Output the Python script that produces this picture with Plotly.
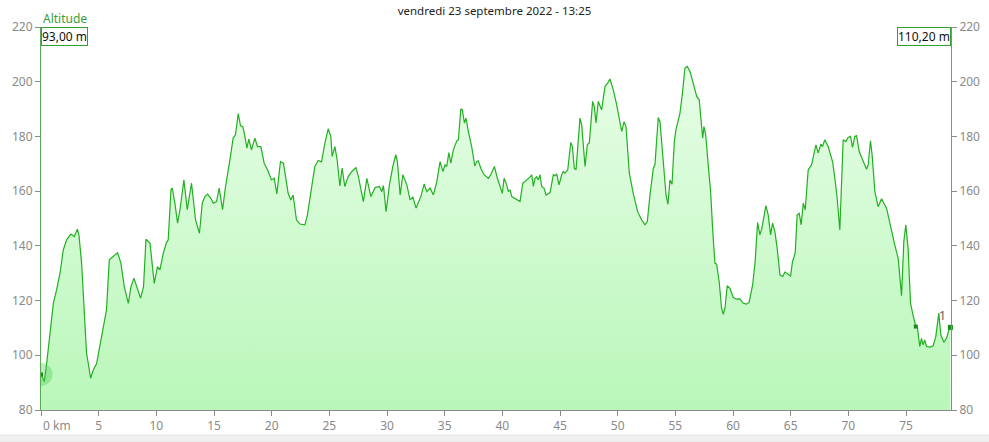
import plotly.graph_objects as go

# profil altimétrique (km, m)
distance_km = [
    0.0, 0.29, 0.49, 0.78, 1.07, 1.35, 1.65, 1.93, 2.22, 2.60, 2.89, 3.15, 3.29, 3.52, 3.81, 3.95,
    4.10, 4.30, 4.53, 4.82, 5.25, 5.68, 5.92, 6.27, 6.64, 6.93, 7.22, 7.57, 7.80, 8.06, 8.32, 8.63,
    8.89, 9.10, 9.45, 9.82, 10.10, 10.31, 10.60, 10.88, 11.03, 11.27, 11.38, 11.61, 11.84, 12.05,
    12.39, 12.68, 13.05, 13.40, 13.74, 13.98, 14.21, 14.44, 14.73, 14.93, 15.22, 15.45, 15.74,
    16.00, 16.38, 16.66, 16.86, 17.10, 17.30, 17.50, 17.68, 17.85, 18.02, 18.25, 18.54, 18.77,
    19.06, 19.35, 19.64, 19.98, 20.22, 20.45, 20.76, 21.02, 21.43, 21.66, 21.86, 22.15, 22.44,
    22.88, 23.10, 23.45, 23.74, 24.03, 24.32, 24.61, 24.90, 25.13, 25.24, 25.48, 25.68, 25.91,
    26.11, 26.34, 26.63, 26.95, 27.30, 27.52, 27.73, 27.95, 28.25, 28.60, 28.97, 29.34, 29.55,
    29.69, 29.92, 30.21, 30.50, 30.76, 30.90, 31.14, 31.37, 31.72, 32.00, 32.24, 32.52, 32.72,
    32.93, 33.22, 33.45, 33.74, 34.02, 34.32, 34.60, 34.84, 35.03, 35.18, 35.36, 35.53, 35.75,
    36.05, 36.19, 36.40, 36.53, 36.71, 36.85, 37.05, 37.35, 37.61, 37.78, 37.92, 38.13, 38.41,
    38.79, 38.99, 39.31, 39.57, 39.80, 40.00, 40.15, 40.38, 40.52, 40.67, 40.82, 41.10, 41.53,
    41.77, 41.97, 42.17, 42.40, 42.55, 42.69, 42.83, 42.98, 43.12, 43.27, 43.41, 43.61, 43.79,
    44.14, 44.42, 44.57, 44.71, 44.91, 45.15, 45.29, 45.43, 45.67, 45.93, 46.07, 46.24, 46.39,
    46.73, 46.88, 47.17, 47.37, 47.54, 47.83, 47.97, 48.12, 48.32, 48.61, 48.90, 49.13, 49.33,
    49.62, 49.91, 50.35, 50.55, 50.72, 51.01, 51.35, 51.73, 52.08, 52.37, 52.57, 52.80, 53.09,
    53.23, 53.52, 53.67, 53.95, 54.19, 54.36, 54.53, 54.71, 54.91, 55.05, 55.40, 55.60, 55.83,
    56.03, 56.27, 56.55, 56.85, 57.07, 57.22, 57.37, 57.48, 57.63, 57.85, 58.06, 58.23, 58.43,
    58.58, 58.80, 59.01, 59.15, 59.30, 59.50, 59.73, 60.02, 60.31, 60.60, 60.89, 61.18, 61.40,
    61.70, 61.92, 62.13, 62.33, 62.50, 62.85, 63.05, 63.26, 63.43, 63.63, 63.83, 64.07, 64.30,
    64.50, 64.78, 64.99, 65.16, 65.39, 65.56, 65.74, 65.91, 66.09, 66.26, 66.52, 66.81, 67.19,
    67.38, 67.62, 67.76, 67.96, 68.25, 68.63, 68.83, 69.03, 69.26, 69.55, 69.78, 69.98, 70.19,
    70.36, 70.56, 70.71, 70.94, 71.23, 71.58, 71.72, 71.92, 72.06, 72.30, 72.58, 72.88, 73.31,
    73.74, 74.03, 74.32, 74.61, 74.81, 74.98, 75.18, 75.39, 75.61, 75.85, 75.99, 76.19, 76.34,
    76.48, 76.62, 76.78, 77.06, 77.35, 77.58, 77.84, 78.02, 78.28, 78.51, 78.76, 78.85,
]
altitude_m = [
    93.0, 90.4, 97.0, 108.0, 119.0, 123.9, 130.0, 138.5, 142.2, 144.3, 143.4, 146.1, 144.0, 133.7,
    114.1, 100.7, 97.0, 91.6, 94.6, 97.0, 106.8, 116.6, 134.9, 136.3, 137.5, 133.7, 125.1, 119.0,
    125.1, 128.2, 125.1, 120.9, 125.1, 142.4, 141.0, 126.3, 132.4, 131.2, 137.3, 141.2, 142.2,
    160.5, 161.1, 155.6, 148.3, 153.2, 164.1, 153.2, 162.9, 149.5, 144.6, 155.6, 158.0, 158.9,
    157.4, 155.6, 156.2, 161.1, 153.2, 161.7, 171.4, 179.4, 180.6, 188.3, 183.9, 183.6, 180.0,
    175.7, 179.0, 175.1, 179.4, 176.3, 176.3, 170.2, 167.8, 164.1, 164.7, 159.0, 170.8, 170.2,
    159.2, 156.8, 158.6, 149.5, 148.0, 147.7, 151.3, 161.7, 169.0, 171.2, 170.7, 177.5, 182.8,
    180.0, 172.7, 176.3, 171.4, 161.9, 168.4, 161.7, 165.3, 167.2, 168.6, 165.3, 160.5, 156.2,
    164.7, 158.0, 161.3, 161.7, 159.8, 162.0, 152.5, 162.3, 169.0, 173.3, 170.8, 158.6, 166.0,
    162.3, 156.8, 157.8, 153.8, 156.2, 158.0, 162.6, 159.8, 161.1, 158.6, 163.5, 170.8, 167.2,
    169.6, 169.0, 174.1, 170.2, 175.1, 178.4, 178.8, 190.1, 189.7, 184.9, 186.7, 181.8, 176.1,
    169.2, 170.8, 171.1, 168.4, 166.0, 164.7, 166.0, 169.0, 164.7, 161.4, 159.2, 164.7, 162.3,
    159.8, 160.5, 158.0, 157.4, 156.2, 162.9, 163.5, 164.1, 165.1, 166.0, 161.7, 164.7, 165.3,
    164.1, 166.0, 161.7, 161.1, 158.6, 159.5, 166.0, 165.6, 166.3, 162.3, 166.0, 167.2, 166.6,
    167.8, 177.8, 176.3, 168.4, 167.8, 186.7, 184.2, 169.0, 177.0, 177.6, 192.8, 190.9, 184.9,
    192.8, 189.7, 198.3, 199.5, 201.0, 197.0, 191.6, 181.8, 185.4, 183.6, 166.6, 159.2, 152.5,
    149.5, 147.7, 148.9, 158.6, 168.4, 169.6, 186.9, 185.4, 169.6, 158.6, 155.2, 164.1, 162.5,
    178.1, 182.4, 188.5, 195.2, 205.0, 205.6, 203.7, 199.5, 194.6, 193.4, 187.3, 179.4, 183.6,
    180.6, 169.6, 159.8, 146.4, 133.7, 133.3, 126.9, 117.2, 115.0, 117.2, 125.4, 124.5, 121.1,
    120.5, 120.6, 119.0, 118.7, 119.4, 125.7, 134.3, 148.5, 144.0, 146.4, 154.7, 151.3, 144.0,
    148.3, 145.2, 139.1, 129.4, 128.8, 130.4, 129.4, 129.0, 134.3, 137.3, 151.3, 151.9, 147.7,
    155.6, 153.2, 167.8, 169.6, 176.9, 173.9, 177.2, 176.3, 178.8, 176.3, 170.8, 164.7, 157.4,
    145.8, 178.8, 178.1, 179.6, 180.0, 176.0, 180.0, 180.3, 174.5, 171.4, 168.0, 169.6, 178.4,
    173.3, 159.8, 154.3, 157.2, 153.8, 145.2, 140.3, 135.5, 121.8, 141.6, 147.7, 139.1, 119.0,
    114.7, 110.5, 110.1, 103.2, 106.2, 103.8, 105.6, 103.2, 103.0, 103.5, 106.8, 115.4, 107.4,
    104.8, 106.2, 109.9, 110.2,
]

x_ticks = [0, 5, 10, 15, 20, 25, 30, 35, 40, 45, 50, 55, 60, 65, 70, 75]
x_tick_labels = [""] + [str(v) for v in x_ticks[1:]]
y_ticks = [80, 100, 120, 140, 160, 180, 200, 220]

title_text = "vendredi 23 septembre 2022 - 13:25"
start_label = "93,00 m"
end_label = "110,20 m"

X_MAX = 78.9
gray = "#8a8a8a"
font = "Noto Sans, Segoe UI, sans-serif"

fig = go.Figure()

fig.add_trace(
    go.Scatter(
        x=distance_km,
        y=altitude_m,
        mode="lines",
        line=dict(color="#22b022", width=1.2),
        fill="tozeroy",
        fillgradient=dict(
            type="vertical",
            colorscale=[[0, "#b9f7b9"], [1, "#ecfeec"]],
            start=80,
            stop=220,
        ),
        hoverinfo="skip",
        showlegend=False,
    )
)

# départ: halo + point
fig.add_trace(
    go.Scatter(
        x=[distance_km[0]],
        y=[altitude_m[0]],
        mode="markers",
        marker=dict(size=23, color="rgba(70,200,70,0.35)"),
        cliponaxis=True,
        hoverinfo="skip",
        showlegend=False,
    )
)
fig.add_trace(
    go.Scatter(
        x=[distance_km[0], 75.85],
        y=[altitude_m[0], 110.5],
        mode="markers",
        marker=dict(size=4, color="#1a8c1a", symbol="square"),
        hoverinfo="skip",
        showlegend=False,
    )
)

# arrivée, sur l'axe de droite
fig.add_trace(
    go.Scatter(
        x=[distance_km[-1]],
        y=[altitude_m[-1]],
        mode="markers+text",
        marker=dict(size=5, color="#1a8c1a", symbol="square"),
        text=["1"],
        textposition="top left",
        textfont=dict(color="#666666", size=13, family=font),
        cliponaxis=False,
        hoverinfo="skip",
        showlegend=False,
        yaxis="y2",
    )
)

axis_common = dict(
    ticks="outside",
    ticklen=5,
    tickcolor=gray,
    showgrid=False,
    zeroline=False,
    showline=True,
    linewidth=1,
    automargin=False,
    tickfont=dict(size=12, color=gray),
)

fig.update_layout(
    width=989,
    height=442,
    margin=dict(l=41, r=38, t=27, b=32),
    paper_bgcolor="white",
    plot_bgcolor="white",
    font=dict(family=font, size=12, color=gray),
    title=dict(
        text=title_text,
        x=0.5,
        xanchor="center",
        y=0.985,
        yanchor="top",
        font=dict(size=11.5, color="#222222", family=font),
    ),
    xaxis=dict(range=[0, X_MAX], tickvals=x_ticks, ticktext=x_tick_labels,
               linecolor=gray, **axis_common),
    yaxis=dict(range=[80, 220], tickvals=y_ticks, linecolor="#5aa85a", **axis_common),
    yaxis2=dict(range=[80, 220], tickvals=y_ticks, overlaying="y", side="right",
                linecolor=gray, **axis_common),
)

# "0 km" aligné à gauche du premier tick
fig.add_annotation(
    x=0, y=0, xref="x", yref="paper", xanchor="left", yanchor="top",
    yshift=-5, text="0 km", showarrow=False, font=dict(size=12, color=gray),
)
fig.add_annotation(
    x=0, y=1, xref="paper", yref="paper", xanchor="left", yanchor="bottom",
    yshift=-2, text="Altitude", showarrow=False,
    font=dict(size=12, color="#3a9e3a"),
)
fig.add_annotation(
    x=0, y=1, xref="paper", yref="paper", xanchor="left", yanchor="top",
    text=start_label, showarrow=False, bgcolor="white",
    bordercolor="#2fa32f", borderwidth=1, borderpad=0,
    font=dict(size=12, color="#111111"),
)
fig.add_annotation(
    x=1, y=1, xref="paper", yref="paper", xanchor="right", yanchor="top",
    text=end_label, showarrow=False, bgcolor="white",
    bordercolor="#2fa32f", borderwidth=1, borderpad=0,
    font=dict(size=12, color="#111111"),
)

# bande grise en bas de la fenêtre
fig.add_shape(
    type="rect", xref="paper", yref="paper",
    x0=-0.1, x1=1.1, y0=-32 / 383, y1=-25 / 383,
    fillcolor="#f0f0f0", line=dict(color="#e4e4e4", width=1), layer="below",
)

# la page a une marge de 8 px par défaut : on la retire
fig.write_html(
    "out.html",
    config={"displayModeBar": False},
    post_script="document.body.style.margin='0px';",
)
